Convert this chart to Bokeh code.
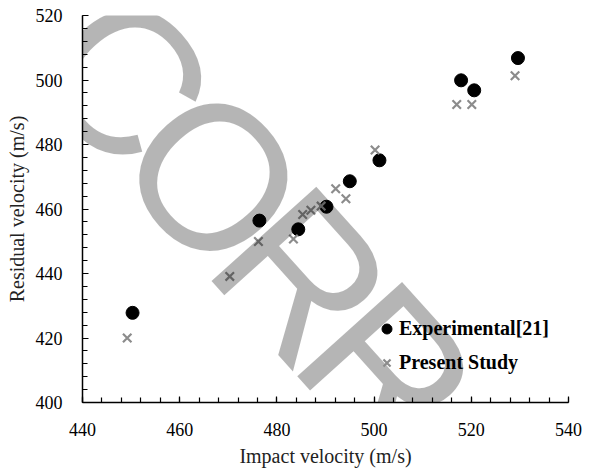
import math
from bokeh.plotting import figure
from bokeh.models import Range1d, Legend, LegendItem, Label, FixedTicker
from bokeh.embed import file_html
from bokeh.resources import INLINE

# ---- data ----
exp_x = [450.3, 476.4, 484.4, 490.2, 495.0, 501.1, 517.9, 520.6, 529.6]
exp_y = [427.8, 456.4, 453.7, 460.7, 468.6, 475.1, 499.9, 496.8, 506.8]
pre_x = [449.2, 470.3, 476.2, 483.4, 485.3, 487.0, 489.1, 492.1, 494.2, 500.2, 517.0, 520.1, 529.0]
pre_y = [420.0, 439.1, 449.9, 450.7, 458.3, 459.6, 460.9, 466.3, 463.2, 478.3, 492.4, 492.4, 501.3]
x_ticks = [440, 460, 480, 500, 520, 540]
y_ticks = [400, 420, 440, 460, 480, 500, 520]
x_minor = list(range(440, 541, 4))
y_minor = list(range(400, 521, 4))
series_names = ["Experimental[21]", "Present Study"]
x_title = "Impact velocity (m/s)"
y_title = "Residual velocity (m/s)"
stamp_letters = ["C", "O", "R", "R"]          # part of the "INCORRECT" stamp seen over the chart
stamp_offsets = [241, 374, 507, 635]          # letter centres along the stamp baseline (px)

SERIF = "Liberation Serif"
W, H = 601, 473
LEFT, RIGHT, TOP, BOTTOM = 82, 33, 15, 71

p = figure(width=W, height=H, output_backend="svg", toolbar_location=None,
           x_range=Range1d(440, 540), y_range=Range1d(400, 520),
           min_border_left=LEFT, min_border_right=RIGHT, min_border_top=TOP,
           min_border_bottom=BOTTOM)
p.outline_line_color = None
p.xgrid.visible = False
p.ygrid.visible = False
p.background_fill_color = "white"
p.border_fill_color = "white"

for ax, ticks, minor in ((p.xaxis[0], x_ticks, x_minor), (p.yaxis[0], y_ticks, y_minor)):
    ax.ticker = FixedTicker(ticks=ticks, minor_ticks=minor)
    ax.axis_line_color = "black"
    ax.axis_line_width = 1.5
    ax.major_tick_line_color = "black"
    ax.minor_tick_line_color = "black"
    ax.major_tick_line_width = 1.2
    ax.minor_tick_line_width = 1.2
    ax.major_tick_in = 6
    ax.major_tick_out = 0
    ax.minor_tick_in = 5
    ax.minor_tick_out = 0
    ax.major_label_text_font = SERIF
    ax.major_label_text_font_size = "18px"
    ax.major_label_text_color = "black"
    ax.axis_label_text_font = SERIF
    ax.axis_label_text_font_size = "20px"
    ax.axis_label_text_font_style = "normal"
    ax.axis_label_text_color = "#222222"

p.xaxis.axis_label = x_title
p.yaxis.axis_label = y_title
p.xaxis.major_label_standoff = 20
p.yaxis.major_label_standoff = 20
p.xaxis.axis_label_standoff = 6
p.yaxis.axis_label_standoff = 5

r1 = p.scatter(exp_x, exp_y, marker="circle", size=13, fill_color="black", line_color="black")
r2 = p.scatter(pre_x, pre_y, marker="x", size=12, line_color="#8c8c8c", line_width=2.2)

legend = Legend(items=[LegendItem(label=series_names[0], renderers=[r1]),
                       LegendItem(label=series_names[1], renderers=[r2])],
                location=(292, 27), orientation="vertical",
                background_fill_alpha=0, border_line_alpha=0,
                padding=0, margin=0, spacing=9,
                glyph_width=25, glyph_height=25, label_height=25, label_standoff=0,
                label_text_font=SERIF, label_text_font_style="bold",
                label_text_font_size="20px", label_text_color="black")
p.add_layout(legend)

# ---- translucent stamp laid over the chart (page pixels -> frame screen units) ----
ang = math.radians(48)
ux, uy = math.cos(ang), math.sin(ang)      # baseline direction (down-right on the page)
vx, vy = math.sin(ang), -math.cos(ang)     # letter "up" direction
ox, oy = -94.0, -50.0                      # stamp origin in page pixels
cap_mid = 77.0
frame_bottom = H - BOTTOM
for letter, d in zip(stamp_letters, stamp_offsets):
    px = ox + d * ux + cap_mid * vx
    py = oy + d * uy + cap_mid * vy
    p.add_layout(Label(x=px - LEFT, y=frame_bottom - py, x_units="screen", y_units="screen",
                       text=letter, angle=-48, angle_units="deg",
                       text_font="Liberation Sans", text_font_size="205px",
                       text_color="black", text_alpha=0.29,
                       text_align="center", text_baseline="middle"))

open("out.html", "w").write(file_html(p, INLINE))
